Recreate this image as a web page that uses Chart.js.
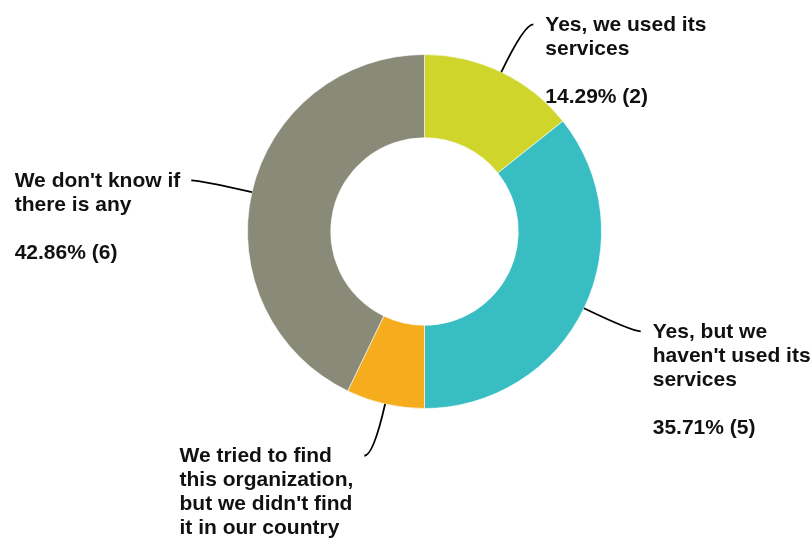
<!DOCTYPE html>
<html>
<head>
<meta charset="utf-8">
<title>Doughnut</title>
<script src="https://cdn.jsdelivr.net/npm/chart.js@4.4.1/dist/chart.umd.min.js"></script>
<style>
  html, body { margin: 0; padding: 0; background: #fff; }
  #wrap { width: 812px; height: 543px; }
</style>
</head>
<body>
<div id="wrap"><canvas id="donut" width="812" height="543"></canvas></div>
<script>
// answers, clockwise from the top
const categories = [
    ["Yes, we used its", "services"],
    ["Yes, but we", "haven't used its", "services"],
    ["We tried to find", "this organization,", "but we didn't find", "it in our country"],
    ["We don't know if", "there is any"]
];
const counts = [2, 5, 1, 6];
const sliceColors = ["#d0d52c", "#38bec2", "#f5ad1e", "#8a8a78"];

const total = counts.reduce((a, b) => a + b, 0);

// draws the callout labels with curved leader lines
const calloutPlugin = {
    id: "callouts",
    afterDatasetsDraw(chart) {
        const ctx = chart.ctx;
        const meta = chart.getDatasetMeta(0);
        const font = "bold 21px 'Liberation Sans', Arial, sans-serif";
        const lineH = 24;

        meta.data.forEach((arc, i) => {
            const p = arc.getProps(["x", "y", "startAngle", "endAngle", "outerRadius"], true);
            const mid = (p.startAngle + p.endAngle) / 2;
            const dx = Math.cos(mid), dy = Math.sin(mid);
            const sx = p.x + dx * p.outerRadius;
            const sy = p.y + dy * p.outerRadius;
            const cx = sx + dx * 53;
            const cy = sy + dy * 53;
            const side = dx >= 0 ? 1 : -1;
            const ex = cx + side * 9;
            const ey = cy;

            ctx.save();
            ctx.strokeStyle = "#000";
            ctx.lineWidth = 1.8;
            ctx.beginPath();
            ctx.moveTo(sx, sy);
            ctx.quadraticCurveTo(cx, cy, ex, ey);
            ctx.stroke();

            const pct = (counts[i] / total * 100).toFixed(2) + "% (" + counts[i] + ")";
            const lines = categories[i].concat(["", pct]);
            ctx.font = font;
            ctx.fillStyle = "#111";
            ctx.textAlign = "left";
            ctx.textBaseline = "alphabetic";
            let left;
            if (side > 0) {
                left = ex + 12;
            } else {
                const w = Math.max(...categories[i].map(t => ctx.measureText(t).width));
                left = ex - 11 - w;
            }
            const base = ey + 6.5;
            lines.forEach((t, k) => {
                if (t) ctx.fillText(t, left, base + k * lineH);
            });
            ctx.restore();
        });
    }
};

const ctx = document.getElementById("donut").getContext("2d");
new Chart(ctx, {
    type: "doughnut",
    data: {
        labels: categories.map(c => c.join(" ")),
        datasets: [{
            data: counts,
            backgroundColor: sliceColors,
            borderColor: "rgba(255,255,255,0.6)",
            borderWidth: 1
        }]
    },
    options: {
        responsive: false,
        animation: false,
        cutout: "53%",
        layout: {
            padding: { left: 247, right: 210, top: 54, bottom: 134 }
        },
        plugins: {
            legend: { display: false },
            tooltip: { enabled: false }
        }
    },
    plugins: [calloutPlugin]
});
</script>
</body>
</html>
